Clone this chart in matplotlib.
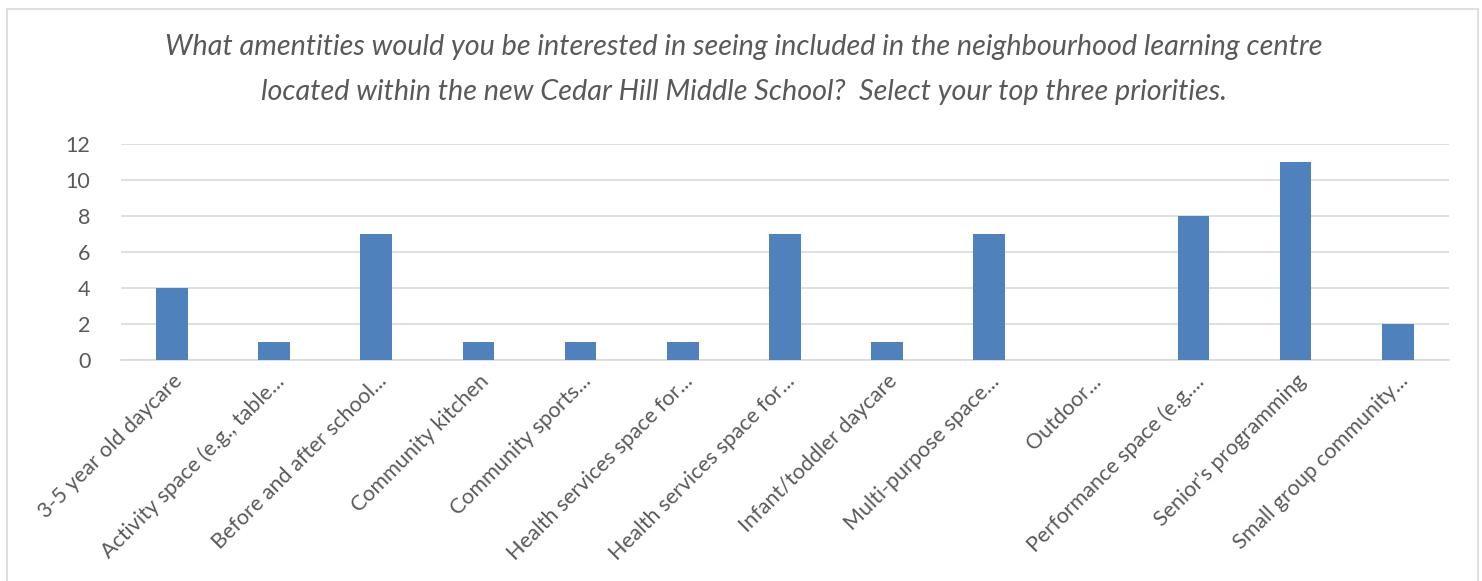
import matplotlib.pyplot as plt
from matplotlib.patches import Rectangle

categories = ["3-5 year old daycare", "Activity space (e.g., table...",
              "Before and after school...", "Community kitchen",
              "Community sports...", "Health services space for...",
              "Health services space for...", "Infant/toddler daycare",
              "Multi-purpose space...", "Outdoor...", "Performance space (e.g....",
              "Senior's programming", "Small group community..."]
counts = [4, 1, 7, 1, 1, 1, 7, 1, 7, 0, 8, 11, 2]
yticks = [0, 2, 4, 6, 8, 10, 12]

title = ("What amentities would you be interested in seeing included in the neighbourhood learning centre\n"
         "located within the new Cedar Hill Middle School?  Select your top three priorities.")

plt.rcParams['font.family'] = ['Lato', 'DejaVu Sans']
txt = '#595959'

fig = plt.figure(figsize=(14.82, 5.81), dpi=100)
fig.patches.append(Rectangle((0.0045, -0.01), 0.9925, 0.995, transform=fig.transFigure,
                             fill=False, edgecolor='#d9d9d9', lw=1.2))
ax = fig.add_axes([0.0816, 0.3804, 0.896, 0.3716])

x = range(len(categories))
ax.bar(x, counts, width=0.31, color='#4f81bd', zorder=3)
ax.set_xlim(-0.5, len(categories) - 0.5)
ax.set_ylim(0, 12)
ax.set_yticks(yticks)
ax.grid(axis='y', color='#d9d9d9', lw=1.2, zorder=0)
for s in ['top', 'right', 'left']:
    ax.spines[s].set_visible(False)
ax.spines['bottom'].set_color('#d9d9d9')
ax.spines['bottom'].set_linewidth(1.2)
ax.tick_params(axis='both', length=0, colors=txt, labelsize=15.5)
ax.tick_params(axis='y', pad=22)
ax.tick_params(axis='x', pad=8)
ax.set_xticks(list(x))
ax.set_xticklabels(categories, rotation=45, ha='right', rotation_mode='anchor')
for lab in ax.get_xticklabels():
    lab.set_x(lab.get_position()[0])

fig.text(0.502, 0.88, title, ha='center', va='center', fontsize=20.7, style='italic',
         color=txt, linespacing=1.9)

fig.savefig('out.png', dpi=100)
